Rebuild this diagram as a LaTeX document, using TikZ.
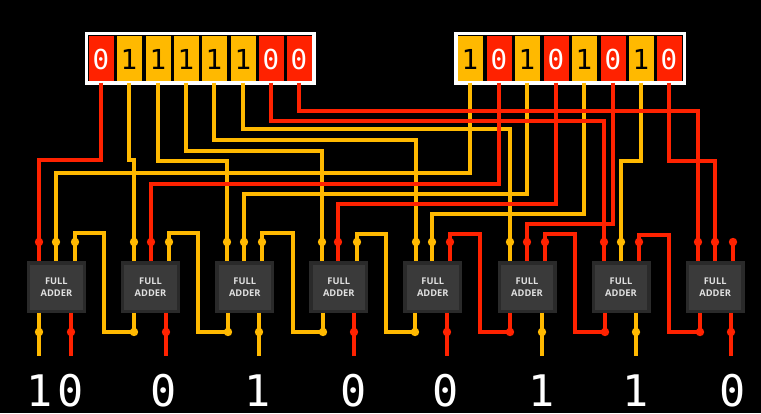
\documentclass[tikz,border=0pt]{standalone}
\usepackage{fontspec}
\newfontfamily\monof{DejaVu Sans Mono}
\newfontfamily\labelf{Open Sans}
\definecolor{wR}{HTML}{FF2200}
\definecolor{wY}{HTML}{FFB900}
\definecolor{addO}{HTML}{2A2A2A}
\definecolor{addI}{HTML}{3A3A3A}
\tikzset{
  wire/.style={line width=3.5pt,line cap=butt,line join=miter},
  bitcell/.style={minimum width=25pt,minimum height=45pt,inner sep=0pt,outer sep=0pt},
  regbox/.style={draw=white,fill=black,line width=3.3pt},
  adder/.style={draw=addO,fill=addI,line width=3.4pt,minimum width=55.6pt,minimum height=48.4pt,inner sep=0pt,outer sep=1.7pt,
    text=white!88!black,align=center,font=\labelf\bfseries\fontsize{9.3}{11.7}\selectfont},
  pin/.style={circle,inner sep=0pt,minimum size=8.4pt},
  result/.style={text=white,inner sep=0pt,anchor=base,font=\monof\fontsize{43.5}{46}\selectfont},
}
\begin{document}
\begin{tikzpicture}[x=1pt,y=-1pt]
\useasboundingbox (0,0) rectangle (761,413);
\fill[black] (0,0) rectangle (761,413);
% registers
\draw[regbox] (86.5,33.5) rectangle (314,83);
\draw[regbox] (456,33.5) rectangle (684.5,83);
\foreach \n/\x/\d/\c/\t in {L1/101/0/wR/white,L2/129/1/wY/black,L3/158/1/wY/black,L4/186/1/wY/black,L5/214/1/wY/black,L6/243/1/wY/black,L7/271/0/wR/white,L8/299/0/wR/white,
  R1/470/1/wY/black,R2/499/0/wR/white,R3/527/1/wY/black,R4/556/0/wR/white,R5/584/1/wY/black,R6/613/0/wR/white,R7/641/1/wY/black,R8/669/0/wR/white}{
  \node[bitcell,fill=\c] (\n) at (\x,58.2) {};
  \node[inner sep=0pt,anchor=base,text=\t,font=\monof\fontsize{27.5}{30}\selectfont] (\n t) at (\x,69) {\d};
}
% adders
\foreach \n/\x in {A1/56.4,A2/150.5,A3/244.8,A4/338.8,A5/432.8,A6/527,A7/621,A8/715.2}{
  \node[adder] (\n) at (\x,287) {FULL\\ADDER};
}
% input pins
\foreach \n/\x/\c in {a1/39/wR,a2/56/wY,a3/75/wY,b1/134/wY,b2/151/wR,b3/169/wY,c1/227/wY,c2/244/wY,c3/262/wY,d1/322/wY,d2/338/wR,d3/357/wY,e1/416/wY,e2/432/wY,e3/450/wR,f1/510/wY,f2/527/wR,f3/545/wR,g1/604/wR,g2/621/wY,g3/639/wR,h1/698/wR,h2/715/wR,h3/733/wR}{
  \node[pin,fill=\c] (\n) at (\x,242) {};
}
\foreach \p/\a/\c in {a1/A1/wR,a2/A1/wY,a3/A1/wY,b1/A2/wY,b2/A2/wR,b3/A2/wY,c1/A3/wY,c2/A3/wY,c3/A3/wY,d1/A4/wY,d2/A4/wR,d3/A4/wY,e1/A5/wY,e2/A5/wY,e3/A5/wR,f1/A6/wY,f2/A6/wR,f3/A6/wR,g1/A7/wR,g2/A7/wY,g3/A7/wR,h1/A8/wR,h2/A8/wR,h3/A8/wR}{
  \draw[wire,draw=\c] (\p.center) -- (\p |- \a.north);
}
% register to adder wires: yellow first, red on top
\foreach \b/\p/\y/\c in {L2/b1/160/wY,L3/c1/161/wY,L4/d1/151/wY,L5/e1/140/wY,L6/f1/129/wY,R1/a2/173/wY,R3/c2/194/wY,R5/e2/214/wY,R7/g2/161/wY,
  L1/a1/160/wR,L7/g1/121/wR,L8/h1/111/wR,R2/b2/184/wR,R4/d2/204/wR,R6/f2/224/wR,R8/h2/161/wR}{
  \draw[wire,draw=\c,shorten <=2pt] (\b.south) -- (\b |- 0,\y) -- (\p |- 0,\y) -- (\p.center);
}
% output pins (sum outputs run on to free ends)
\foreach \n/\x/\a/\c in {s1/39/A1/wY,s2/71/A1/wR,s3/166/A2/wR,s4/259/A3/wY,s5/354/A4/wR,s6/447/A5/wR,s7/542/A6/wY,s8/636/A7/wY,s9/731/A8/wR}{
  \node[pin,fill=\c] (\n) at (\x,332) {};
  \coordinate (\n e) at (\x,356);
  \draw[wire,draw=\c] (\n |- \a.south) -- (\n e);
}
% carry wires
\foreach \n/\x/\a/\c in {b4/134/A2/wY,c4/228/A3/wY,d4/323/A4/wY,e4/415/A5/wY,f4/510/A6/wR,g4/605/A7/wR,h4/700/A8/wR}{
  \node[pin,fill=\c] (\n) at (\x,332) {};
  \draw[wire,draw=\c] (\n |- \a.south) -- (\n.center);
}
\foreach \p/\t/\x/\ty/\c in {a3/b4/104/233/wY,b3/c4/198/233/wY,c3/d4/293/233/wY,d3/e4/386/234/wY,e3/f4/480/234/wR,f3/g4/575/234/wR,g3/h4/669/235/wR}{
  \draw[wire,draw=\c] (\p.center) -- (\p |- 0,\ty) -- (\x,\ty) -- (\x,332) -- (\t.center);
}
% result digits
\node[result] (r1) at (55,406) {1\kern5.2pt 0};
\node[result] (r2) at (164,406) {0};
\node[result] (r3) at (258,406) {1};
\node[result] (r4) at (353.3,406) {0};
\node[result] (r5) at (445.7,406) {0};
\node[result] (r6) at (541.7,406) {1};
\node[result] (r7) at (635.7,406) {1};
\node[result] (r8) at (732.7,406) {0};
\end{tikzpicture}
\end{document}
